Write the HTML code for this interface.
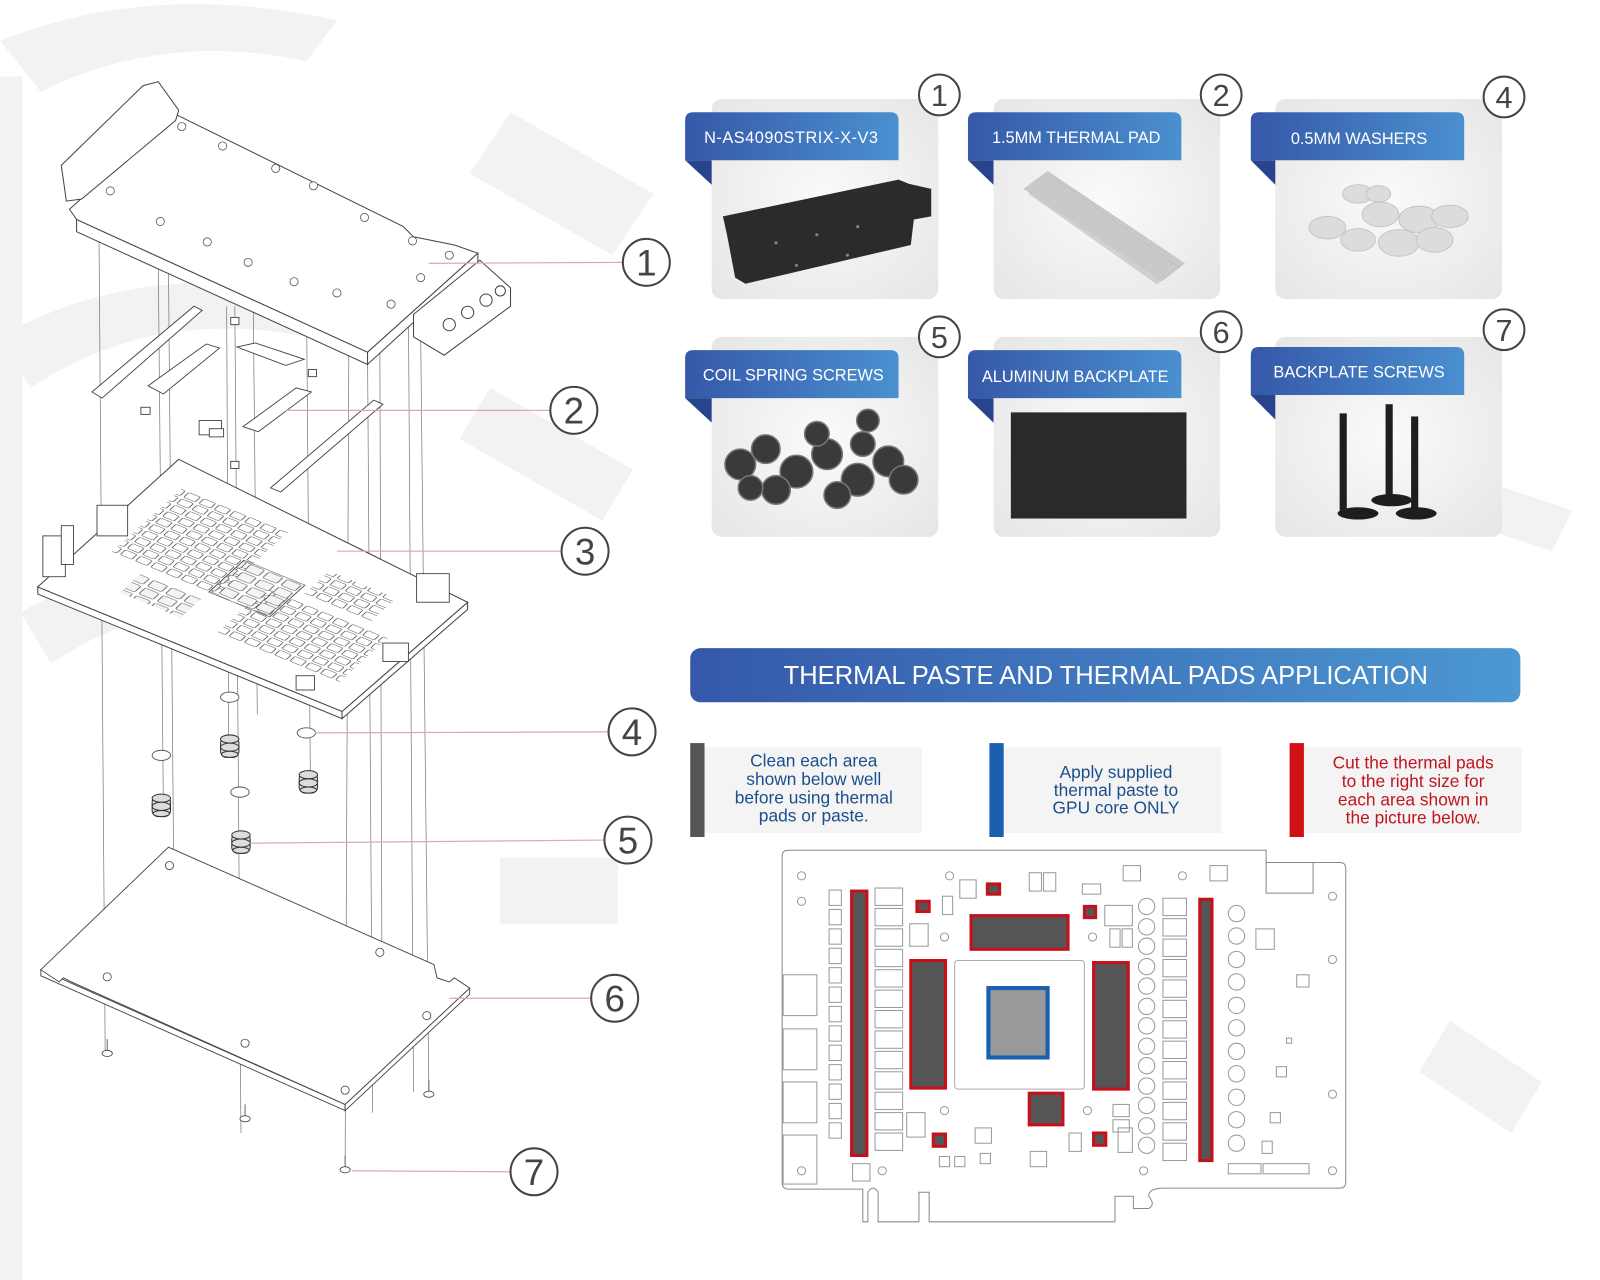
<!DOCTYPE html>
<html><head><meta charset="utf-8"><style>
html,body{margin:0;padding:0;background:#fff;}
svg{display:block;}
text{font-family:"Liberation Sans",sans-serif;}
</style></head><body>
<svg width="1600" height="1280" viewBox="0 0 1567 1254" preserveAspectRatio="none" xmlns="http://www.w3.org/2000/svg">
<defs>
<linearGradient id="tab" x1="0" x2="1" y1="0" y2="0"><stop offset="0" stop-color="#3658a8"/><stop offset="1" stop-color="#4a90d0"/></linearGradient>
<linearGradient id="ban" x1="0" x2="1"><stop offset="0" stop-color="#3558aa"/><stop offset="1" stop-color="#4c98d2"/></linearGradient>
<radialGradient id="card" cx="0.5" cy="0.5" r="0.7"><stop offset="0" stop-color="#fafafa"/><stop offset="1" stop-color="#e6e6e6"/></radialGradient>
<pattern id="comp" patternUnits="userSpaceOnUse" width="5" height="5"><rect x="0.6" y="0.6" width="3.8" height="3.8" rx="0.6" fill="#fff" stroke="#444" stroke-width="0.25"/></pattern>
<pattern id="comp2" patternUnits="userSpaceOnUse" width="6" height="6"><rect x="0.6" y="0.6" width="4.6" height="4.6" rx="0.6" fill="#f4f4f4" stroke="#444" stroke-width="0.25"/></pattern>
</defs>
<rect width="1567" height="1254" fill="#fff"/>
<!-- watermark -->
<g fill="#f2f2f2">
<rect x="0" y="75" width="22" height="1179" fill="#f3f3f3"/>
<path d="M0 40 Q150 -20 330 20 L300 60 Q160 30 40 90Z"/>
<path d="M0 330 Q140 250 330 290 L300 330 Q150 300 30 380Z"/>
<path d="M20 600 Q160 520 340 560 L310 600 Q170 570 50 650Z"/>
<path d="M500 110 L640 190 L600 250 L460 170Z"/>
<path d="M480 380 L620 460 L590 510 L450 430Z"/>
<rect x="490" y="840" width="115" height="65"/>
<path d="M1420 1000 L1510 1060 L1480 1110 L1390 1050Z"/>
<path d="M1450 470 L1540 500 L1520 540 L1430 510Z"/>
</g>

<!-- ===== Left exploded drawing ===== -->
<g fill="none" stroke="#777" stroke-width="0.7">
<line x1="97" y1="235" x2="103" y2="1030"/>
<line x1="155" y1="255" x2="160" y2="790"/>
<line x1="165" y1="262" x2="170" y2="840"/>
<line x1="230" y1="300" x2="236" y2="1110"/>
<line x1="248" y1="295" x2="252" y2="700"/>
<line x1="300" y1="270" x2="304" y2="770"/>
<line x1="222" y1="300" x2="224" y2="735"/>
<line x1="342" y1="265" x2="338" y2="1140"/>
<line x1="360" y1="350" x2="365" y2="1090"/>
<line x1="372" y1="340" x2="374" y2="935"/>
<line x1="400" y1="305" x2="405" y2="1070"/>
<line x1="412" y1="330" x2="420" y2="1068"/>
</g>
<g fill="#fff" stroke="#444" stroke-width="1">
<polygon points="75,215 360,345 360,357 75,227"/>
<polygon points="360,345 468,248 468,258 360,357"/>
<polygon points="68,205 172,112 395,222 405,232 445,240 468,248 360,345 75,215"/>
<polygon points="60,162 140,84 155,80 175,108 172,118 80,195 65,197"/>
<polygon points="405,308 470,255 500,282 500,300 435,348 405,330"/>
<circle cx="440" cy="318" r="6"/><circle cx="458" cy="306" r="6"/><circle cx="476" cy="294" r="6"/><circle cx="490" cy="285" r="5"/>
</g>
<g fill="#fff" stroke="#555" stroke-width="0.8">
<circle cx="178" cy="124" r="4"/><circle cx="218" cy="143" r="4"/><circle cx="270" cy="165" r="4"/><circle cx="307" cy="182" r="4"/><circle cx="357" cy="213" r="4"/><circle cx="108" cy="187" r="4"/><circle cx="157" cy="217" r="4"/><circle cx="203" cy="237" r="4"/><circle cx="243" cy="257" r="4"/><circle cx="288" cy="276" r="4"/><circle cx="330" cy="287" r="4"/><circle cx="383" cy="298" r="4"/><circle cx="404" cy="236" r="4"/><circle cx="440" cy="250" r="4"/><circle cx="412" cy="272" r="4"/>
</g>
<g fill="#fff" stroke="#444" stroke-width="0.9">
<polygon points="90,384 190,300 198,304 100,390"/>
<polygon points="145,378 202,337 215,341 160,386"/>
<polygon points="232,340 250,336 298,352 280,358"/>
<polygon points="238,418 290,380 305,384 253,423"/>
<polygon points="265,478 366,392 375,396 275,482"/>
<rect x="138" y="399" width="9" height="7"/><rect x="195" y="412" width="22" height="14"/><rect x="226" y="311" width="8" height="7"/><rect x="226" y="452" width="8" height="7"/><rect x="302" y="362" width="8" height="7"/>
<rect x="205" y="420" width="14" height="8"/>
</g>
<g stroke="#444" stroke-width="1">
<polygon points="37,575 335,697 335,704 37,582" fill="#fff"/>
<polygon points="335,697 458,590 458,597 335,704" fill="#fff"/>
<polygon points="37,575 175,450 458,590 335,697" fill="#fff"/>
</g>
<g transform="matrix(2.98,1.22,1.38,-1.25,37,575)">
<rect x="8" y="35" width="35" height="50" fill="url(#comp)"/>
<rect x="52" y="15" width="40" height="35" fill="url(#comp)"/>
<rect x="40" y="35" width="20" height="25" fill="url(#comp2)" stroke="#444" stroke-width="0.3"/>
<rect x="62" y="55" width="22" height="18" fill="url(#comp)"/>
<rect x="20" y="15" width="20" height="15" fill="url(#comp2)"/>
</g>
<g fill="#fff" stroke="#444" stroke-width="0.9">
<rect x="42" y="525" width="22" height="40"/><rect x="60" y="515" width="12" height="38"/>
<rect x="95" y="495" width="30" height="30"/><rect x="408" y="562" width="32" height="28"/>
<rect x="375" y="630" width="25" height="18"/><rect x="290" y="662" width="18" height="14"/>
</g>
<g fill="#fff" stroke="#555" stroke-width="0.9">
<ellipse cx="158" cy="740" rx="9" ry="5"/><ellipse cx="225" cy="683" rx="9" ry="5"/><ellipse cx="235" cy="776" rx="9" ry="5"/><ellipse cx="300" cy="718" rx="9" ry="5"/>
</g>
<g fill="#ddd" stroke="#333" stroke-width="1">
<g transform="translate(158,790)"><rect x="-9" y="-10" width="18" height="20" rx="6"/><ellipse cx="0" cy="-8" rx="9" ry="4"/><ellipse cx="0" cy="0" rx="9" ry="4"/><ellipse cx="0" cy="7" rx="8" ry="3"/></g>
<g transform="translate(225,732)"><rect x="-9" y="-10" width="18" height="20" rx="6"/><ellipse cx="0" cy="-8" rx="9" ry="4"/><ellipse cx="0" cy="0" rx="9" ry="4"/><ellipse cx="0" cy="7" rx="8" ry="3"/></g>
<g transform="translate(236,826)"><rect x="-9" y="-10" width="18" height="20" rx="6"/><ellipse cx="0" cy="-8" rx="9" ry="4"/><ellipse cx="0" cy="0" rx="9" ry="4"/><ellipse cx="0" cy="7" rx="8" ry="3"/></g>
<g transform="translate(302,767)"><rect x="-9" y="-10" width="18" height="20" rx="6"/><ellipse cx="0" cy="-8" rx="9" ry="4"/><ellipse cx="0" cy="0" rx="9" ry="4"/><ellipse cx="0" cy="7" rx="8" ry="3"/></g>
</g>
<g fill="#fff" stroke="#444" stroke-width="0.9">
<polygon points="40,950 338,1082 338,1088 40,956"/>
<polygon points="338,1082 460,968 460,974 338,1088"/>
<polygon points="40,950 165,830 425,945 428,958 440,962 445,958 460,968 338,1082 70,962 62,958 58,962"/>
</g>
<g fill="#fff" stroke="#444" stroke-width="0.8">
<circle cx="166" cy="848" r="4"/><circle cx="105" cy="957" r="4"/><circle cx="240" cy="1022" r="4"/><circle cx="372" cy="933" r="4"/><circle cx="418" cy="995" r="4"/><circle cx="338" cy="1068" r="4"/>
<g><line x1="105" y1="1018" x2="105" y2="1030"/><ellipse cx="105" cy="1032" rx="5" ry="3"/></g>
<g><line x1="240" y1="1082" x2="240" y2="1094"/><ellipse cx="240" cy="1096" rx="5" ry="3"/></g>
<g><line x1="420" y1="1058" x2="420" y2="1070"/><ellipse cx="420" cy="1072" rx="5" ry="3"/></g>
<g><line x1="338" y1="1132" x2="338" y2="1144"/><ellipse cx="338" cy="1146" rx="5" ry="3"/></g>
</g>
<g stroke="#d9a7bf" stroke-width="1.2">
<line x1="420" y1="258" x2="610" y2="257"/><line x1="280" y1="402" x2="538" y2="402"/><line x1="330" y1="540" x2="549" y2="540"/><line x1="308" y1="718" x2="596" y2="717"/><line x1="245" y1="826" x2="591" y2="823"/><line x1="440" y1="978" x2="579" y2="978"/><line x1="345" y1="1147" x2="499" y2="1148"/>
</g>
<g fill="#fff" stroke="#444" stroke-width="2">
<circle cx="633" cy="257" r="23"/><circle cx="562" cy="402" r="23"/><circle cx="573" cy="540" r="23"/><circle cx="619" cy="717" r="23"/><circle cx="615" cy="823" r="23"/><circle cx="602" cy="978" r="23"/><circle cx="523" cy="1148" r="23"/>
</g>
<g fill="#444" font-size="36" text-anchor="middle">
<text x="633" y="270">1</text><text x="562" y="415">2</text><text x="573" y="553">3</text><text x="619" y="730">4</text><text x="615" y="836">5</text><text x="602" y="991">6</text><text x="523" y="1161">7</text>
</g>

<!-- ===== Cards ===== -->
<g fill="url(#card)">
<rect x="697" y="97" width="222" height="196" rx="10"/><rect x="973" y="97" width="222" height="196" rx="10"/><rect x="1249" y="97" width="222" height="196" rx="10"/>
<rect x="697" y="330" width="222" height="196" rx="10"/><rect x="973" y="330" width="222" height="196" rx="10"/><rect x="1249" y="330" width="222" height="196" rx="10"/>
</g>
<polygon points="708,212 880,176 890,180 912,185 912,212 895,215 892,240 730,278 720,272 712,230" fill="#2b2b2d"/>
<g fill="#888"><circle cx="760" cy="238" r="1.5"/><circle cx="800" cy="230" r="1.5"/><circle cx="840" cy="222" r="1.5"/><circle cx="780" cy="260" r="1.5"/><circle cx="830" cy="250" r="1.5"/></g>
<g fill="#c9c9c9" stroke="#bbb" stroke-width="0.5">
<polygon points="1003,185 1026,168 1160,258 1138,275"/>
<polygon points="1008,190 1031,173 1155,262 1133,278" opacity="0.8"/>
</g>
<g fill="#dcdcdc" stroke="#c6c6c6" stroke-width="1">
<ellipse cx="1300" cy="223" rx="18" ry="11"/><ellipse cx="1330" cy="190" rx="15" ry="9"/><ellipse cx="1352" cy="210" rx="18" ry="12"/><ellipse cx="1390" cy="215" rx="20" ry="13"/><ellipse cx="1420" cy="212" rx="18" ry="11"/><ellipse cx="1330" cy="235" rx="17" ry="11"/><ellipse cx="1370" cy="238" rx="20" ry="13"/><ellipse cx="1405" cy="235" rx="18" ry="12"/><ellipse cx="1350" cy="190" rx="12" ry="8"/>
</g>
<g fill="#3a3a3c" stroke="#777" stroke-width="1.5">
<circle cx="725" cy="455" r="15"/><circle cx="750" cy="440" r="14"/><circle cx="780" cy="462" r="16"/><circle cx="810" cy="445" r="15"/><circle cx="840" cy="470" r="16"/><circle cx="870" cy="452" r="15"/><circle cx="760" cy="480" r="14"/><circle cx="820" cy="485" r="13"/><circle cx="800" cy="425" r="12"/><circle cx="845" cy="435" r="12"/><circle cx="885" cy="470" r="14"/><circle cx="850" cy="412" r="11"/><circle cx="735" cy="478" r="12"/>
</g>
<rect x="990" y="404" width="172" height="104" fill="#2a2a2c"/>
<g fill="#1e1e20">
<rect x="1312" y="405" width="7" height="95"/><rect x="1357" y="396" width="7" height="92"/><rect x="1382" y="408" width="7" height="92"/>
<ellipse cx="1330" cy="503" rx="20" ry="6"/><ellipse cx="1363" cy="490" rx="20" ry="6"/><ellipse cx="1387" cy="503" rx="20" ry="6"/>
</g>
<g fill="#28448c">
<polygon points="671,157 697,157 697,181"/><polygon points="948,157 973,157 973,181"/><polygon points="1225,157 1249,157 1249,181"/>
<polygon points="671,390 697,390 697,414"/><polygon points="948,390 973,390 973,414"/><polygon points="1225,387 1249,387 1249,411"/>
</g>
<g fill="url(#tab)">
<path d="M671 118 Q671 110 679 110 L872 110 Q880 110 880 118 L880 157 L671 157Z"/>
<path d="M948 118 Q948 110 956 110 L1149 110 Q1157 110 1157 118 L1157 157 L948 157Z"/>
<path d="M1225 118 Q1225 110 1233 110 L1426 110 Q1434 110 1434 118 L1434 157 L1225 157Z"/>
<path d="M671 351 Q671 343 679 343 L872 343 Q880 343 880 351 L880 390 L671 390Z"/>
<path d="M948 351 Q948 343 956 343 L1149 343 Q1157 343 1157 351 L1157 390 L948 390Z"/>
<path d="M1225 348 Q1225 340 1233 340 L1426 340 Q1434 340 1434 348 L1434 387 L1225 387Z"/>
</g>
<g fill="#fff" font-size="16" text-anchor="middle">
<text x="775" y="140" letter-spacing="0.5">N-AS4090STRIX-X-V3</text>
<text x="1054" y="140">1.5MM THERMAL PAD</text>
<text x="1331" y="141">0.5MM WASHERS</text>
<text x="777" y="373">COIL SPRING SCREWS</text>
<text x="1053" y="374">ALUMINUM BACKPLATE</text>
<text x="1331" y="370">BACKPLATE SCREWS</text>
</g>
<g fill="#fff" stroke="#444" stroke-width="2">
<circle cx="920" cy="93" r="20"/><circle cx="1196" cy="93" r="20"/><circle cx="1473" cy="95" r="20"/>
<circle cx="920" cy="330" r="20"/><circle cx="1196" cy="325" r="20"/><circle cx="1473" cy="323" r="20"/>
</g>
<g fill="#444" font-size="30" text-anchor="middle">
<text x="920" y="104">1</text><text x="1196" y="104">2</text><text x="1473" y="106">4</text>
<text x="920" y="341">5</text><text x="1196" y="336">6</text><text x="1473" y="334">7</text>
</g>

<rect x="676" y="635" width="813" height="53" rx="10" fill="url(#ban)"/>
<text x="1083" y="670" fill="#fff" font-size="25" text-anchor="middle">THERMAL PASTE AND THERMAL PADS APPLICATION</text>

<rect x="690" y="732" width="213" height="84" fill="#f4f4f4"/><rect x="676" y="728" width="14" height="92" fill="#555"/>
<rect x="983" y="732" width="213" height="84" fill="#f4f4f4"/><rect x="969" y="728" width="14" height="92" fill="#1a5fb0"/>
<rect x="1277" y="732" width="213" height="84" fill="#f4f4f4"/><rect x="1263" y="728" width="14" height="92" fill="#d01015"/>
<g font-size="17" text-anchor="middle" fill="#1b4f8c">
<text x="797" y="751">Clean each area</text><text x="797" y="769">shown below well</text><text x="797" y="787">before using thermal</text><text x="797" y="805">pads or paste.</text>
<text x="1093" y="762">Apply supplied</text><text x="1093" y="780">thermal paste to</text><text x="1093" y="797">GPU core ONLY</text>
</g>
<g font-size="17" text-anchor="middle" fill="#c0141e">
<text x="1384" y="753">Cut the thermal pads</text><text x="1384" y="771">to the right size for</text><text x="1384" y="789">each area shown in</text><text x="1384" y="807">the picture below.</text>
</g>

<g fill="none" stroke="#888" stroke-width="1">
<path d="M772 833 L1240 833 L1240 845 L1312 845 Q1318 845 1318 851 L1318 1158 Q1318 1164 1312 1164 L1140 1164 Q1125 1164 1125 1172 Q1132 1180 1125 1184 L1110 1184 L1110 1172 L1092 1172 L1092 1197 L910 1197 L910 1168 L900 1168 L900 1197 L860 1197 L860 1168 Q855 1160 850 1168 L850 1197 L845 1197 L845 1165 L772 1165 Q766 1165 766 1158 L766 839 Q766 833 772 833Z"/>
<rect x="1240" y="845" width="46" height="30"/>
<g stroke="#999">
<rect x="812" y="872" width="12" height="15"/><rect x="812" y="891" width="12" height="15"/><rect x="812" y="910" width="12" height="15"/><rect x="812" y="929" width="12" height="15"/><rect x="812" y="948" width="12" height="15"/><rect x="812" y="967" width="12" height="15"/><rect x="812" y="986" width="12" height="15"/><rect x="812" y="1005" width="12" height="15"/><rect x="812" y="1024" width="12" height="15"/><rect x="812" y="1043" width="12" height="15"/><rect x="812" y="1062" width="12" height="15"/><rect x="812" y="1081" width="12" height="15"/><rect x="812" y="1100" width="12" height="15"/>
<rect x="857" y="870" width="27" height="17"/><rect x="857" y="890" width="27" height="17"/><rect x="857" y="910" width="27" height="17"/><rect x="857" y="930" width="27" height="17"/><rect x="857" y="950" width="27" height="17"/><rect x="857" y="970" width="27" height="17"/><rect x="857" y="990" width="27" height="17"/><rect x="857" y="1010" width="27" height="17"/><rect x="857" y="1030" width="27" height="17"/><rect x="857" y="1050" width="27" height="17"/><rect x="857" y="1070" width="27" height="17"/><rect x="857" y="1090" width="27" height="17"/><rect x="857" y="1110" width="27" height="17"/>
<rect x="767" y="955" width="33" height="40"/><rect x="767" y="1008" width="33" height="40"/><rect x="767" y="1060" width="33" height="40"/><rect x="767" y="1112" width="33" height="48"/>
<rect x="1139" y="880" width="23" height="17"/><rect x="1139" y="900" width="23" height="17"/><rect x="1139" y="920" width="23" height="17"/><rect x="1139" y="940" width="23" height="17"/><rect x="1139" y="960" width="23" height="17"/><rect x="1139" y="980" width="23" height="17"/><rect x="1139" y="1000" width="23" height="17"/><rect x="1139" y="1020" width="23" height="17"/><rect x="1139" y="1040" width="23" height="17"/><rect x="1139" y="1060" width="23" height="17"/><rect x="1139" y="1080" width="23" height="17"/><rect x="1139" y="1100" width="23" height="17"/><rect x="1139" y="1120" width="23" height="17"/>
<circle cx="1123" cy="888" r="8"/><circle cx="1123" cy="908" r="8"/><circle cx="1123" cy="927" r="8"/><circle cx="1123" cy="947" r="8"/><circle cx="1123" cy="966" r="8"/><circle cx="1123" cy="986" r="8"/><circle cx="1123" cy="1005" r="8"/><circle cx="1123" cy="1025" r="8"/><circle cx="1123" cy="1044" r="8"/><circle cx="1123" cy="1064" r="8"/><circle cx="1123" cy="1083" r="8"/><circle cx="1123" cy="1103" r="8"/><circle cx="1123" cy="1122" r="8"/>
<circle cx="1211" cy="895" r="8"/><circle cx="1211" cy="917" r="8"/><circle cx="1211" cy="940" r="8"/><circle cx="1211" cy="962" r="8"/><circle cx="1211" cy="985" r="8"/><circle cx="1211" cy="1007" r="8"/><circle cx="1211" cy="1030" r="8"/><circle cx="1211" cy="1052" r="8"/><circle cx="1211" cy="1075" r="8"/><circle cx="1211" cy="1097" r="8"/><circle cx="1211" cy="1120" r="8"/>
<circle cx="785" cy="858" r="4"/><circle cx="785" cy="883" r="4"/><circle cx="785" cy="1147" r="4"/><circle cx="930" cy="858" r="4"/><circle cx="1158" cy="858" r="4"/><circle cx="1305" cy="878" r="4"/><circle cx="1305" cy="940" r="4"/><circle cx="1305" cy="1072" r="4"/><circle cx="1305" cy="1147" r="4"/><circle cx="1120" cy="1147" r="4"/><circle cx="864" cy="1147" r="4"/><circle cx="925" cy="918" r="4"/><circle cx="925" cy="1088" r="4"/><circle cx="1070" cy="918" r="4"/><circle cx="1065" cy="1088" r="4"/>
<rect x="1100" y="848" width="17" height="15"/><rect x="1185" y="848" width="17" height="15"/><rect x="1008" y="855" width="12" height="18"/><rect x="1022" y="855" width="12" height="18"/><rect x="940" y="862" width="16" height="18"/><rect x="1060" y="866" width="18" height="10"/><rect x="1082" y="887" width="27" height="20"/><rect x="1087" y="910" width="10" height="18"/><rect x="1099" y="910" width="10" height="18"/><rect x="891" y="905" width="18" height="22"/><rect x="923" y="878" width="10" height="18"/>
<rect x="1230" y="910" width="18" height="20"/><rect x="1270" y="955" width="12" height="12"/><rect x="1250" y="1045" width="10" height="10"/><rect x="1244" y="1090" width="10" height="10"/><rect x="1236" y="1118" width="10" height="12"/><rect x="1203" y="1140" width="32" height="10"/><rect x="1237" y="1140" width="45" height="10"/><rect x="1260" y="1017" width="5" height="5"/>
<rect x="888" y="1090" width="18" height="24"/><rect x="955" y="1105" width="16" height="15"/><rect x="1009" y="1128" width="16" height="15"/><rect x="920" y="1133" width="10" height="10"/><rect x="935" y="1133" width="10" height="10"/><rect x="960" y="1130" width="10" height="10"/><rect x="1047" y="1110" width="12" height="18"/><rect x="1090" y="1082" width="16" height="12"/><rect x="1090" y="1097" width="16" height="12"/><rect x="1095" y="1105" width="14" height="24"/><rect x="835" y="1140" width="17" height="17"/>
</g>
<rect x="935" y="941" width="127" height="126" rx="3" stroke="#aaa"/>
</g>
<rect x="968" y="968" width="58" height="68" fill="#999" stroke="#1a5fb0" stroke-width="4"/>
<g fill="#555" stroke="#c8101a" stroke-width="3">
<rect x="834" y="873" width="15" height="259"/><rect x="1175" y="881" width="12" height="256"/>
<rect x="951" y="897" width="95" height="33"/><rect x="892" y="941" width="34" height="125"/><rect x="1071" y="943" width="34" height="124"/><rect x="1008" y="1071" width="33" height="31"/>
<rect x="898" y="883" width="12" height="10"/><rect x="967" y="866" width="12" height="10"/><rect x="1062" y="888" width="11" height="11"/><rect x="914" y="1111" width="12" height="12"/><rect x="1071" y="1110" width="12" height="12"/>
</g>
</svg>
</body></html>
